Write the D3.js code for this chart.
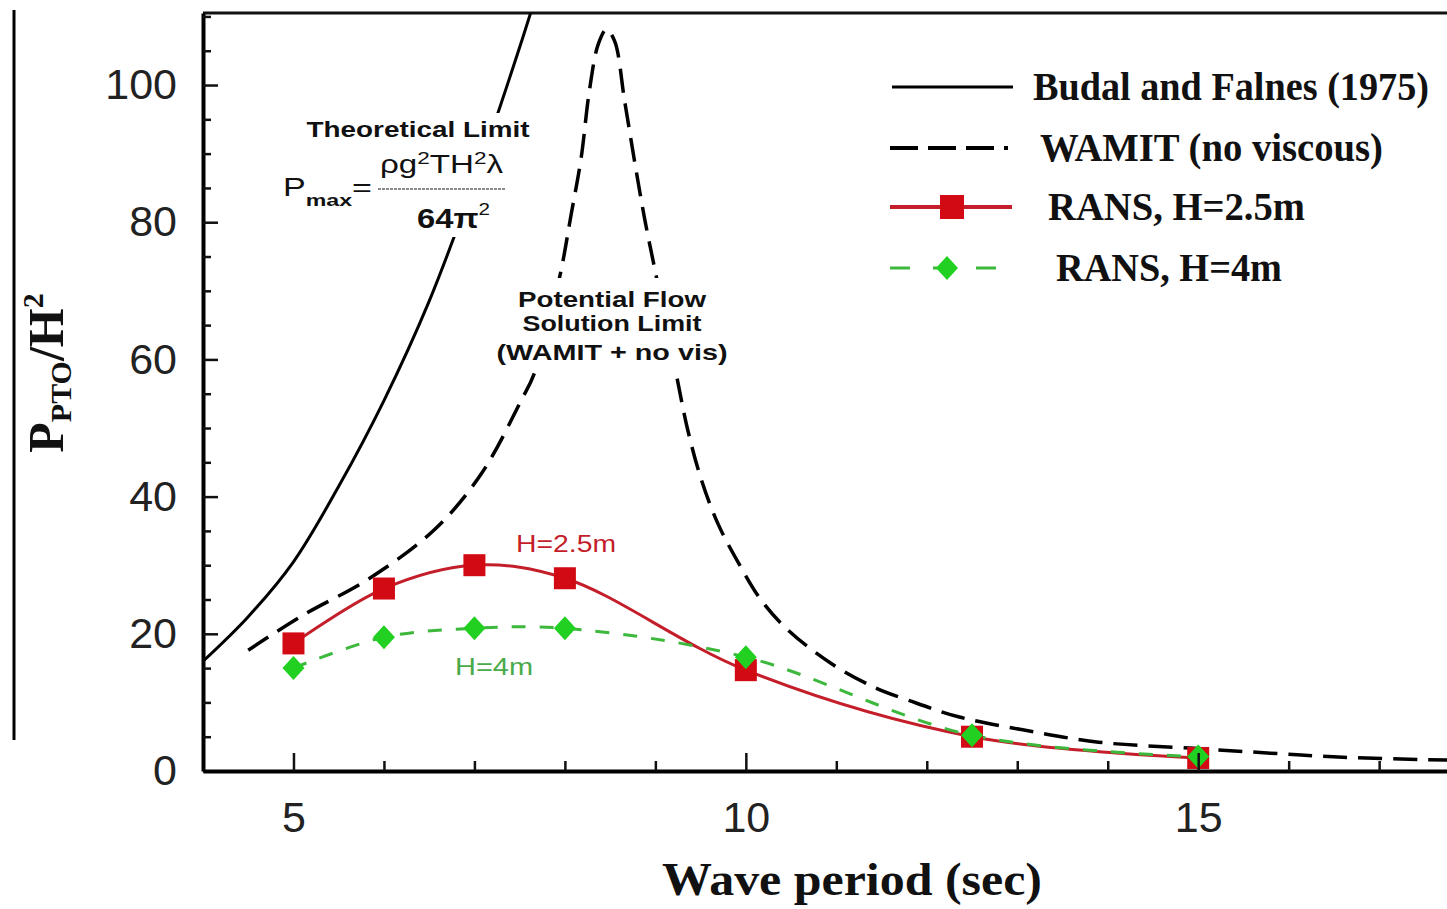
<!DOCTYPE html>
<html>
<head>
<meta charset="utf-8">
<script src="https://cdn.jsdelivr.net/npm/d3@7"></script>
<style>
  body { margin: 0; background: #fff; }
  svg { display: block; }
  .tick text { font-family: "Liberation Sans", Arial, sans-serif; fill: #222; }
  .ann { font-family: "Liberation Sans", Arial, sans-serif; fill: #111; }
  .leg { font-family: "Liberation Serif", "Times New Roman", serif; font-weight: bold; fill: #111; }
</style>
</head>
<body>
<div id="chart-area"></div>
<script>
// Chart size
let width_raw = 1447,
	height_raw = 909;

// plot box (the right side is cut off in the original)
let plot = {left: 203, right: 1447, top: 13, bottom: 771};

// Budal and Falnes (1975) theoretical limit
let budalT = [4.0, 4.5, 5.0, 5.5, 6.0, 6.5, 7.0, 7.5, 7.75];
let budalP = [16.0, 22.5, 30.5, 41.5, 54.0, 68.5, 86.0, 105.5, 116];

// WAMIT (no viscous)
let wamitT = [4.5, 5.09, 5.83, 6.56, 7.08, 7.52, 7.66, 7.94, 8.07, 8.18, 8.27, 8.37, 8.46, 8.55,
	8.66, 8.77, 8.88, 8.99, 9.23, 9.36, 9.51, 9.69, 9.92, 10.17, 10.47, 10.94, 11.42, 11.8,
	12.35, 13.06, 13.9, 14.96, 15.8, 16.6, 17.75];
let wamitP = [17.6, 22.6, 28.0, 35.2, 43.4, 54.1, 57.9, 71.9, 81.2, 89.4, 99.1, 106.0, 108.1, 106.4,
	97.7, 88.9, 80.6, 73.4, 57.9, 49.6, 42.4, 36.1, 30.3, 24.9, 20.5, 15.7, 12.2, 10.3,
	7.9, 6.0, 4.2, 3.3, 2.6, 2.0, 1.6];

// RANS results
let ransT = [5, 6, 7, 8, 10, 12.5, 15];
let rans25 = [18.6, 26.6, 30.0, 28.1, 14.7, 5.0, 1.9];
let rans4 = [15.0, 19.5, 20.8, 20.8, 16.6, 5.2, 2.1];

// ticks
let yMajor = [0, 20, 40, 60, 80, 100];
let yMinor = [5, 10, 15, 25, 30, 35, 45, 50, 55, 65, 70, 75, 85, 90, 95, 105, 110];
let xMajor = [5, 10, 15];
let xMinor = [6, 7, 8, 9, 11, 12, 13, 14, 16, 17];

let legendLabels = ["Budal and Falnes (1975)", "WAMIT (no viscous)", "RANS, H=2.5m", "RANS, H=4m"];

let red = "#d10a14", redLine = "#c41e2a", green = "#22d022", greenLine = "#3cb83c";

let svg = d3.select("#chart-area")
	.append("svg")
	.attr("width", width_raw)
	.attr("height", height_raw);

let x = d3.scaleLinear()
	.domain([4, 17.75])
	.range([plot.left, plot.right]);

let y = d3.scaleLinear()
	.domain([0, 110.5])
	.range([plot.bottom, plot.top]);

svg.append("clipPath").attr("id", "clip")
	.append("rect")
	.attr("x", plot.left).attr("y", plot.top)
	.attr("width", plot.right - plot.left).attr("height", plot.bottom - plot.top);

// stray border line at far left
svg.append("line")
	.attr("x1", 14).attr("x2", 14).attr("y1", 10).attr("y2", 740)
	.attr("stroke", "#000").attr("stroke-width", 3);

// top border
svg.append("line")
	.attr("x1", plot.left).attr("x2", plot.right).attr("y1", plot.top).attr("y2", plot.top)
	.attr("stroke", "#111").attr("stroke-width", 3);

let curves = svg.append("g").attr("clip-path", "url(#clip)");

let line = d3.line()
	.x(d => x(d[0]))
	.y(d => y(d[1]))
	.curve(d3.curveCatmullRom.alpha(0.5));

curves.append("path")
	.datum(d3.zip(wamitT, wamitP))
	.attr("d", line)
	.attr("fill", "none")
	.attr("stroke", "#000")
	.attr("stroke-width", 3.5)
	.attr("stroke-dasharray", "24,11");

curves.append("path")
	.datum(d3.zip(budalT, budalP))
	.attr("d", line)
	.attr("fill", "none")
	.attr("stroke", "#000")
	.attr("stroke-width", 3);

// white boxes behind the annotations (they hide the curves)
svg.append("rect").attr("x", 280).attr("y", 113).attr("width", 255).attr("height", 124).attr("fill", "#fff");
svg.append("rect").attr("x", 495).attr("y", 278).attr("width", 237).attr("height", 94).attr("fill", "#fff");

// RANS lines
curves.append("path")
	.datum(d3.zip(ransT, rans25))
	.attr("d", line)
	.attr("fill", "none")
	.attr("stroke", redLine)
	.attr("stroke-width", 3);

curves.append("path")
	.datum(d3.zip(ransT, rans4))
	.attr("d", line)
	.attr("fill", "none")
	.attr("stroke", greenLine)
	.attr("stroke-width", 3)
	.attr("stroke-dasharray", "14,14");

let diamond = "M0,-12L11,0L0,12L-11,0Z";

svg.append("g").selectAll("rect")
	.data(d3.zip(ransT, rans25))
	.enter()
	.append("rect")
	.attr("x", d => x(d[0]) - 11)
	.attr("y", d => y(d[1]) - 11)
	.attr("width", 22).attr("height", 22)
	.attr("fill", red);

svg.append("g").selectAll("path")
	.data(d3.zip(ransT, rans4))
	.enter()
	.append("path")
	.attr("d", diamond)
	.attr("transform", d => "translate(" + x(d[0]) + "," + y(d[1]) + ")")
	.attr("fill", green);

// Axes
let yAxis = d3.axisLeft(y).tickValues(yMajor).tickSizeInner(-15).tickSizeOuter(0).tickPadding(26);
let yAxisMinor = d3.axisLeft(y).tickValues(yMinor).tickSizeInner(-8).tickSizeOuter(0).tickFormat("");
let xAxis = d3.axisBottom(x).tickValues(xMajor).tickSizeInner(-18).tickSizeOuter(0).tickPadding(30);
let xAxisMinor = d3.axisBottom(x).tickValues(xMinor).tickSizeInner(-10).tickSizeOuter(0).tickFormat("");

let yGroup = svg.append("g").attr("transform", "translate(" + plot.left + ",0)").call(yAxis);
svg.append("g").attr("transform", "translate(" + plot.left + ",0)").call(yAxisMinor)
	.select(".domain").remove();
let xGroup = svg.append("g").attr("transform", "translate(0," + plot.bottom + ")").call(xAxis);
svg.append("g").attr("transform", "translate(0," + plot.bottom + ")").call(xAxisMinor)
	.select(".domain").remove();

svg.selectAll(".tick line").attr("stroke", "#111").attr("stroke-width", 2.5);
yGroup.select(".domain").attr("stroke", "#000").attr("stroke-width", 4);
xGroup.select(".domain").attr("stroke", "#000").attr("stroke-width", 4);
yGroup.selectAll("text").attr("font-size", 43);
xGroup.selectAll("text").attr("font-size", 43);

// Axis titles
svg.append("text")
	.attr("class", "leg")
	.attr("x", 852).attr("y", 895)
	.attr("text-anchor", "middle")
	.attr("font-size", 46)
	.attr("textLength", 380)
	.attr("lengthAdjust", "spacingAndGlyphs")
	.text("Wave period (sec)");

let yTitle = svg.append("text")
	.attr("class", "leg")
	.attr("transform", "translate(63,373) rotate(-90)")
	.attr("text-anchor", "middle")
	.attr("font-size", 50);
yTitle.append("tspan").text("P");
yTitle.append("tspan").attr("font-size", 30).attr("dy", 8).text("PTO");
yTitle.append("tspan").attr("dy", -8).text("/H");
yTitle.append("tspan").attr("font-size", 30).attr("dy", -20).text("2");

// Annotations
svg.append("text").attr("class", "ann")
	.attr("x", 418).attr("y", 137).attr("text-anchor", "middle")
	.attr("font-size", 22).attr("font-weight", "bold")
	.attr("textLength", 223).attr("lengthAdjust", "spacingAndGlyphs")
	.text("Theoretical Limit");

let pmax = svg.append("text").attr("class", "ann").attr("x", 283).attr("y", 196).attr("font-size", 25)
	.attr("textLength", 89).attr("lengthAdjust", "spacingAndGlyphs");
pmax.append("tspan").text("P");
pmax.append("tspan").attr("font-size", 17).attr("font-weight", "bold").attr("dy", 10).text("max");
pmax.append("tspan").attr("dy", -10).text("=");

let num = svg.append("text").attr("class", "ann").attr("x", 380).attr("y", 173)
	.attr("font-size", 25).attr("textLength", 123).attr("lengthAdjust", "spacingAndGlyphs");
num.append("tspan").text("ρg");
num.append("tspan").attr("font-size", 17).attr("dy", -9).text("2");
num.append("tspan").attr("dy", 9).text("TH");
num.append("tspan").attr("font-size", 17).attr("dy", -9).text("2");
num.append("tspan").attr("dy", 9).text("λ");

svg.append("line")
	.attr("x1", 378).attr("x2", 505).attr("y1", 189).attr("y2", 189)
	.attr("stroke", "#666").attr("stroke-width", 1.5).attr("stroke-dasharray", "3,1");

let den = svg.append("text").attr("class", "ann").attr("x", 417).attr("y", 228)
	.attr("font-size", 27).attr("font-weight", "bold")
	.attr("textLength", 73).attr("lengthAdjust", "spacingAndGlyphs");
den.append("tspan").text("64π");
den.append("tspan").attr("font-size", 17).attr("font-weight", "normal").attr("dy", -13).text("2");

let pf = ["Potential Flow", "Solution Limit", "(WAMIT + no vis)"];
let pfY = [307, 331, 360];
let pfW = [188, 179, 231];
svg.append("g").selectAll("text")
	.data(pf)
	.enter()
	.append("text")
	.attr("class", "ann")
	.attr("x", 612)
	.attr("y", (d, i) => pfY[i])
	.attr("text-anchor", "middle")
	.attr("font-size", 22)
	.attr("font-weight", "bold")
	.attr("textLength", (d, i) => pfW[i])
	.attr("lengthAdjust", "spacingAndGlyphs")
	.text(d => d);

svg.append("text").attr("class", "ann")
	.attr("x", 566).attr("y", 552).attr("text-anchor", "middle")
	.attr("font-size", 24).attr("textLength", 100).attr("lengthAdjust", "spacingAndGlyphs")
	.style("fill", "#c41e2a")
	.text("H=2.5m");

svg.append("text").attr("class", "ann")
	.attr("x", 494).attr("y", 675).attr("text-anchor", "middle")
	.attr("font-size", 24).attr("textLength", 78).attr("lengthAdjust", "spacingAndGlyphs")
	.style("fill", "#4aaa4a")
	.text("H=4m");

// Legend
let legY = [87, 148, 207, 268];
let legTextX = [1033, 1040, 1048, 1056];
let legTextW = [396, 343, 257, 226];
let leg = svg.append("g");

leg.append("line").attr("x1", 892).attr("x2", 1013).attr("y1", legY[0]).attr("y2", legY[0])
	.attr("stroke", "#000").attr("stroke-width", 3);
leg.append("line").attr("x1", 890).attr("x2", 1015).attr("y1", legY[1]).attr("y2", legY[1])
	.attr("stroke", "#000").attr("stroke-width", 4).attr("stroke-dasharray", "28,10,28,10,28,10,4,30");
leg.append("line").attr("x1", 890).attr("x2", 1012).attr("y1", legY[2]).attr("y2", legY[2])
	.attr("stroke", redLine).attr("stroke-width", 4);
leg.append("rect").attr("x", 940).attr("y", legY[2] - 12).attr("width", 24).attr("height", 24).attr("fill", red);
leg.append("line").attr("x1", 890).attr("x2", 1013).attr("y1", legY[3]).attr("y2", legY[3])
	.attr("stroke", greenLine).attr("stroke-width", 3).attr("stroke-dasharray", "20,23");
leg.append("path").attr("d", diamond).attr("transform", "translate(947," + legY[3] + ")").attr("fill", green);

leg.selectAll("text")
	.data(legendLabels)
	.enter()
	.append("text")
	.attr("class", "leg")
	.attr("x", (d, i) => legTextX[i])
	.attr("y", (d, i) => legY[i] + 13)
	.attr("font-size", 40)
	.attr("textLength", (d, i) => legTextW[i])
	.attr("lengthAdjust", "spacingAndGlyphs")
	.text(d => d);
</script>
</body>
</html>
